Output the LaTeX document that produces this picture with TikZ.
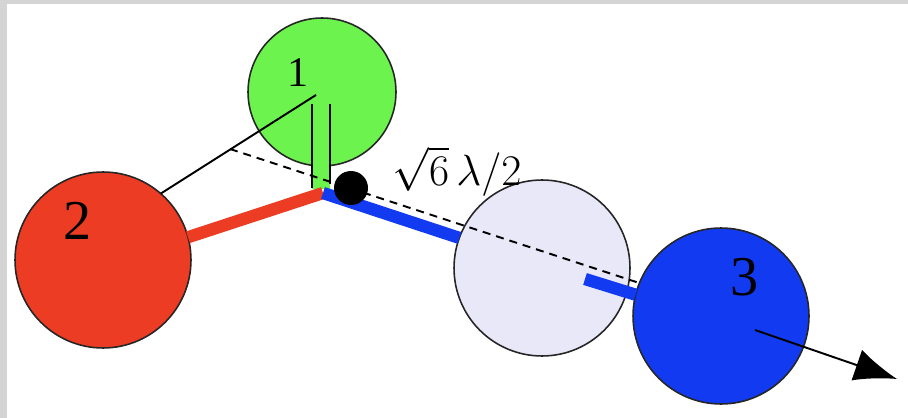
\documentclass[tikz,border=0pt]{standalone}
\usepackage{fontspec}
\setmainfont{Liberation Serif}
\usetikzlibrary{arrows.meta}
\definecolor{ballgreen}{RGB}{108,243,78}
\definecolor{ballred}{RGB}{236,60,35}
\definecolor{ballghost}{RGB}{232,232,248}
\definecolor{ballblue}{RGB}{18,58,240}
\tikzset{
  ball/.style={circle, draw=black!85, line width=0.9pt, inner sep=0pt, outer sep=0pt, minimum size=3.52cm},
  bond/.style={line width=7pt},
  lbl/.style={inner sep=0pt, font=\fontsize{32}{32}\selectfont},
}
\begin{document}
\begin{tikzpicture}[x=0.02cm, y=-0.02cm]
	\useasboundingbox (0,0) rectangle (908,418) ;
	\fill[black!17] (0,0) rectangle (908,418) ;
	\fill[white] (7,4) rectangle (908,418) ;
		% the four balls
		\node[ball, fill=ballgreen, minimum size=2.96cm] (p1) at (322, 92) {} ;
		\node[ball, fill=ballred] (p2) at (103, 260) {} ;
		\node[ball, fill=ballghost] (pg) at (542, 268) {} ;
		\node[ball, fill=ballblue] (p3) at (721, 316) {} ;
		\node[lbl, font=\fontsize{24}{24}\selectfont] (l1) at (298, 73) {1} ;
		\node[lbl] (l2) at (78, 221) {2} ;
		\node[lbl] (l3) at (745, 277) {3} ;
		\coordinate (c1) at (316, 95) ;
		\coordinate (jn) at (323, 193) ;
		\coordinate (d0) at (230, 149) ;
		\coordinate (sb) at (585, 279) ;
		\coordinate (a0) at (755, 330) ;
		\coordinate (a1) at (897, 379) ;
	% green stick
	\fill[ballgreen] (312, 104) rectangle (330, 189) ;
	\draw[line width=1.1pt] (312, 104) -- (312, 188) ;
	\draw[line width=1.1pt] (330, 104) -- (330, 184) ;
	\draw[line width=1.1pt] (p2.49) -- (c1) ;
	\draw[bond, ballred] (p2.15) -- (jn) ;
	\draw[bond, ballblue] (jn) -- (pg.160) ;
	\draw[bond, ballblue] (sb) -- (p3.166) ;
	\draw[line width=1.1pt, dash pattern=on 0.16cm off 0.12cm] (d0) -- (p3.158) ;
		\node[circle, fill=black, inner sep=0pt, minimum size=0.68cm] (dot) at (351, 188) {} ;
		\node[inner sep=0pt, font=\fontsize{24}{24}\selectfont] (len) at (457, 171) {$\sqrt{6}\,\lambda/2$} ;
	\draw[line width=1.1pt, -{Latex[length=0.85cm, width=0.65cm]}] (a0) -- (a1) ;
\end{tikzpicture}
\end{document}
